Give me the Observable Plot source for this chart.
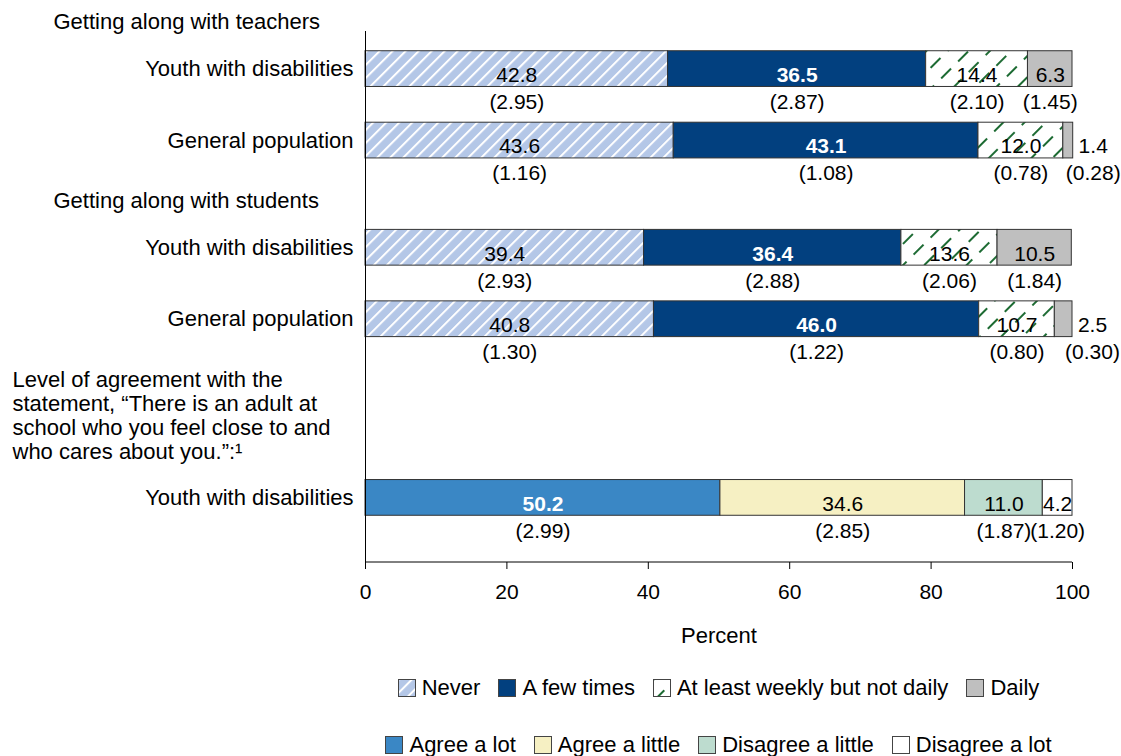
<!DOCTYPE html>
<html>
<head>
<meta charset="utf-8">
<script src="https://cdn.jsdelivr.net/npm/d3@7"></script>
<script src="https://cdn.jsdelivr.net/npm/@observablehq/plot@0.6"></script>
<style>
  html, body { margin: 0; padding: 0; background: #fff; }
  body { font-family: "Liberation Sans", Arial, sans-serif; color: #000; width: 1121px; }
  #legend { width: 707px; margin-left: 365px; padding-top: 16px; font-size: 22px; }
  .lrow { display: flex; justify-content: center; align-items: center; height: 24px; white-space: nowrap; }
  .lrow + .lrow { margin-top: 33px; }
  .item { display: flex; align-items: center; margin: 0 9px; }
  .item svg { margin-right: 6px; }
</style>
</head>
<body>
<svg width="0" height="0" style="position:absolute">
  <defs>
    <pattern id="pat-never" patternUnits="userSpaceOnUse" width="9.2" height="9.2" patternTransform="rotate(45)">
      <rect width="9.2" height="9.2" fill="#b4c7e7"></rect>
      <line x1="1" y1="0" x2="1" y2="9.2" stroke="#ffffff" stroke-width="2"></line>
    </pattern>
    <pattern id="pat-weekly" patternUnits="userSpaceOnUse" width="15" height="24" patternTransform="rotate(45)">
      <rect width="15" height="24" fill="#ffffff"></rect>
      <line x1="1" y1="0" x2="1" y2="24" stroke="#1d6b33" stroke-width="2" stroke-dasharray="14 10"></line>
    </pattern>
  </defs>
</svg>
<div id="chart"></div>
<div id="legend"></div>
<script>
// ---- data ----
const freqCats = ["Never", "A few times", "At least weekly but not daily", "Daily"];
const agreeCats = ["Agree a lot", "Agree a little", "Disagree a little", "Disagree a lot"];
const groupTitles = [
  "Getting along with teachers",
  "Getting along with students",
  "Level of agreement with the\nstatement, \u201cThere is an adult at\nschool who you feel close to and\nwho cares about you.\u201d:\u00b9"
];
const rowLabels = ["Youth with disabilities", "General population"];

const teachersYWD = [42.8, 36.5, 14.4, 6.3];
const teachersYWDse = [2.95, 2.87, 2.10, 1.45];
const teachersGP = [43.6, 43.1, 12.0, 1.4];
const teachersGPse = [1.16, 1.08, 0.78, 0.28];
const studentsYWD = [39.4, 36.4, 13.6, 10.5];
const studentsYWDse = [2.93, 2.88, 2.06, 1.84];
const studentsGP = [40.8, 46.0, 10.7, 2.5];
const studentsGPse = [1.30, 1.22, 0.80, 0.30];
const adultYWD = [50.2, 34.6, 11.0, 4.2];
const adultYWDse = [2.99, 2.85, 1.87, 1.20];

const xTicks = [0, 20, 40, 60, 80, 100];

// row slots (layout order, including spacer slots)
const slots = ["h1", "t1", "sp0", "t2", "sp1", "h2", "u1", "sp2", "u2", "sp3", "sp4", "h3", "sp5", "a1", "sp6"];

const catColors = {
  "Never": "url(#pat-never)",
  "A few times": "#02407f",
  "At least weekly but not daily": "url(#pat-weekly)",
  "Daily": "#bfbfbf",
  "Agree a lot": "#3a87c5",
  "Agree a little": "#f6f0c3",
  "Disagree a little": "#bddccf",
  "Disagree a lot": "#ffffff"
};
const boldWhite = new Set(["A few times", "Agree a lot"]);

const rows = [
  {slot: "t1", label: rowLabels[0], cats: freqCats, values: teachersYWD, errors: teachersYWDse},
  {slot: "t2", label: rowLabels[1], cats: freqCats, values: teachersGP, errors: teachersGPse},
  {slot: "u1", label: rowLabels[0], cats: freqCats, values: studentsYWD, errors: studentsYWDse},
  {slot: "u2", label: rowLabels[1], cats: freqCats, values: studentsGP, errors: studentsGPse},
  {slot: "a1", label: rowLabels[0], cats: agreeCats, values: adultYWD, errors: adultYWDse}
];
const headers = [
  {slot: "h1", text: groupTitles[0]},
  {slot: "h2", text: groupTitles[1]}
];
const longHeader = [{slot: "h3", text: groupTitles[2]}];

// build segments from the arrays
const segments = [];
for (const r of rows) {
  let acc = 0;
  const total = d3.sum(r.values);
  r.values.forEach((v, i) => {
    const x1 = acc, x2 = acc + v;
    acc = x2;
    const outside = v < 3;
    segments.push({
      slot: r.slot, cat: r.cats[i], value: v, err: r.errors[i],
      x1, x2, lx: outside ? total : (x1 + x2) / 2, outside
    });
  });
}

const inside = segments.filter(d => !d.outside);
const outsideSeg = segments.filter(d => d.outside);

const allCats = [...freqCats, ...agreeCats];

const bottomLine = (index, scales, values, dims) => {
  const l = document.createElementNS("http://www.w3.org/2000/svg", "line");
  const y = dims.height - dims.marginBottom;
  l.setAttribute("x1", scales.x(0));
  l.setAttribute("x2", scales.x(100));
  l.setAttribute("y1", y);
  l.setAttribute("y2", y);
  l.setAttribute("stroke", "#000");
  l.setAttribute("stroke-width", "1");
  return l;
};

const NUM = 21;   // numbers font size
const LAB = 22;   // labels font size

const chart = Plot.plot({
  width: 1121,
  height: 660,
  marginLeft: 365,
  marginRight: 49,
  marginTop: 31,
  marginBottom: 98,
  style: {fontFamily: "'Liberation Sans', Arial, sans-serif", fontSize: "21px", color: "#000", background: "#fff"},
  x: {domain: [0, 100], ticks: xTicks, tickSize: 7, tickPadding: 15, label: null, axis: "bottom"},
  y: {domain: slots, range: [15, 551], padding: 0, round: false, axis: null},
  color: {domain: allCats, range: allCats.map(c => catColors[c])},
  marks: [
    Plot.barX(segments, {x1: "x1", x2: "x2", y: "slot", fill: "cat", stroke: "#333", strokeWidth: 1, inset: 0}),
    Plot.ruleX([0], {stroke: "#000"}),
    bottomLine,
    // values inside bars
    Plot.text(inside.filter(d => !boldWhite.has(d.cat)), {x: "lx", y: "slot", text: d => d.value.toFixed(1), dy: 6, fill: "#000", fontSize: NUM}),
    Plot.text(inside.filter(d => boldWhite.has(d.cat)), {x: "lx", y: "slot", text: d => d.value.toFixed(1), dy: 6, fill: "#fff", fontWeight: "bold", fontSize: NUM}),
    Plot.text(outsideSeg, {x: "lx", y: "slot", text: d => d.value.toFixed(1), dy: 6, dx: 20, fill: "#000", fontSize: NUM}),
    // standard errors
    Plot.text(inside, {x: "lx", y: "slot", text: d => `(${d.err.toFixed(2)})`, dy: 33, fill: "#000", fontSize: NUM}),
    Plot.text(outsideSeg, {x: "lx", y: "slot", text: d => `(${d.err.toFixed(2)})`, dy: 33, dx: 20, fill: "#000", fontSize: NUM}),
    // row labels
    Plot.text(rows, {y: "slot", text: "label", frameAnchor: "left", textAnchor: "end", dx: -12, fill: "#000", fontSize: LAB}),
    // group headers
    Plot.text(headers, {y: "slot", text: "text", frameAnchor: "left", textAnchor: "start", dx: -312, dy: -11, fill: "#000", fontSize: LAB}),
    Plot.text(longHeader, {y: "slot", text: "text", frameAnchor: "left", textAnchor: "start", dx: -353, dy: -11, lineHeight: 24 / 22, fill: "#000", fontSize: LAB}),
    // axis title
    Plot.text(["Percent"], {frameAnchor: "bottom", dy: 80, fill: "#000", fontSize: LAB})
  ]
});
document.getElementById("chart").appendChild(chart);

// legend
function legendRow(cats) {
  const row = document.createElement("div");
  row.className = "lrow";
  for (const c of cats) {
    const item = document.createElement("div");
    item.className = "item";
    item.innerHTML = `<svg width="18" height="18"><rect x="0.5" y="0.5" width="17" height="17" fill="${catColors[c]}" stroke="#444" stroke-width="1"></rect></svg><span>${c}</span>`;
    row.appendChild(item);
  }
  return row;
}
const legend = document.getElementById("legend");
legend.appendChild(legendRow(freqCats));
legend.appendChild(legendRow(agreeCats));
</script>
</body>
</html>
